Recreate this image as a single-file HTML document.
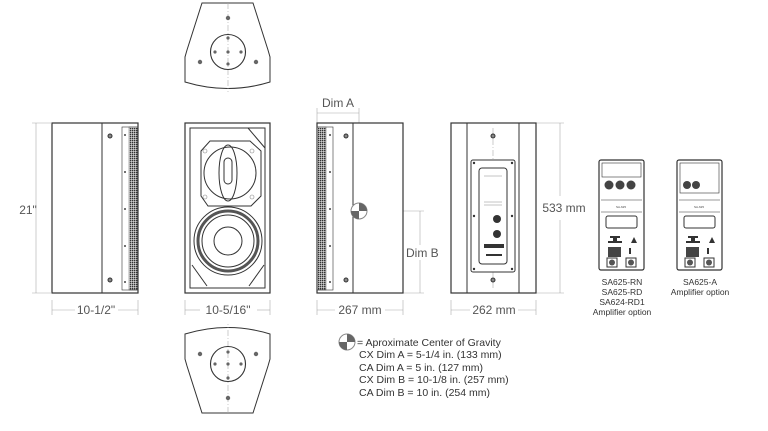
<!DOCTYPE html>
<html><head><style>body{margin:0;background:#fff}svg{display:block}</style></head><body>
<svg width="768" height="431" viewBox="0 0 768 431" xmlns="http://www.w3.org/2000/svg" font-family="Liberation Sans, sans-serif" fill="none" stroke="#333" stroke-width="1">
<defs>
<g id="topv">
<path d="M202,3 L253,3 L268,50 L270,57 L270,82 Q228,95 185,82 L185,57 L187,50 Z" fill="#fff"/>
<line x1="228" y1="3" x2="228" y2="92" stroke="#aaa" stroke-dasharray="6,2,1,2" stroke-width="0.6"/>
<circle cx="228" cy="52" r="17.5" stroke-width="1.1"/>
<g fill="#666" stroke="none">
<circle cx="228" cy="18" r="2.2"/><circle cx="228" cy="38" r="1.6"/><circle cx="228" cy="52" r="1.6"/><circle cx="228" cy="64" r="1.6"/><circle cx="215" cy="52" r="1.6"/><circle cx="241" cy="52" r="1.6"/><circle cx="200" cy="62" r="2.2"/><circle cx="256" cy="62" r="2.2"/></g>
</g>
<pattern id="gr" width="2" height="2" patternUnits="userSpaceOnUse"><rect width="1" height="1" fill="#999"/></pattern>
<g id="cg"><circle r="8" fill="#fff" stroke="#888"/><path d="M0,0 L0,-8 A8,8 0 0 1 8,0Z" fill="#666" stroke="none"/><path d="M0,0 L0,8 A8,8 0 0 1 -8,0Z" fill="#666" stroke="none"/></g>
<g id="amp">
<rect x="0" y="0" width="45" height="110" rx="2" fill="#fff" stroke-width="1.2"/>
<line x1="2" y1="40" x2="43" y2="40" stroke-width="0.6"/><line x1="2" y1="52" x2="43" y2="52" stroke-width="0.6"/>
<rect x="7" y="56" width="31" height="12" rx="2"/>
<g fill="#333" stroke="none"><path d="M11,76h10v2h-3v3h5v2h-14v-2h5v-3h-3z"/><path d="M32,83l3,-6l3,6z"/>
<rect x="9" y="87" width="13" height="10" fill="#444"/><rect x="30" y="88" width="2" height="6"/></g>
<rect x="8" y="98" width="10" height="9" stroke-width="1"/><rect x="27" y="98" width="10" height="9" stroke-width="1"/>
<circle cx="13" cy="102.5" r="3" fill="#555" stroke="none"/><circle cx="32" cy="102.5" r="3" fill="#555" stroke="none"/>
<text x="22" y="48" font-size="3" fill="#444" stroke="none" text-anchor="middle">SA-625</text>
</g>
</defs>
<use href="#topv"/>
<use href="#topv" transform="translate(0,416) scale(1,-1)"/>
<!-- side 1 -->
<rect x="52" y="123" width="86" height="170" fill="#fff" stroke-width="1.2"/>
<line x1="102" y1="123" x2="102" y2="293"/>
<rect x="129" y="127" width="9" height="163" fill="url(#gr)" stroke="#666" stroke-width="0.5"/>
<rect x="122" y="127" width="16" height="163" stroke-width="0.6"/>
<g fill="#444" stroke="none"><circle cx="125" cy="135" r="1"/><circle cx="125" cy="172" r="1"/><circle cx="125" cy="209" r="1"/><circle cx="125" cy="246" r="1"/><circle cx="125" cy="282" r="1"/></g>
<circle cx="110" cy="136" r="2" fill="#888"/><circle cx="110" cy="280" r="2" fill="#888"/>
<g stroke="#aaa" stroke-width="0.6"><line x1="36" y1="123" x2="36" y2="293"/><line x1="32" y1="123" x2="52" y2="123"/><line x1="32" y1="293" x2="52" y2="293"/>
<line x1="52" y1="300" x2="52" y2="315"/><line x1="138" y1="300" x2="138" y2="315"/><line x1="52" y1="310" x2="75" y2="310"/><line x1="118" y1="310" x2="138" y2="310"/>
<line x1="185" y1="300" x2="185" y2="315"/><line x1="270" y1="300" x2="270" y2="315"/><line x1="185" y1="310" x2="200" y2="310"/><line x1="257" y1="310" x2="270" y2="310"/>
<line x1="317" y1="300" x2="317" y2="315"/><line x1="403" y1="300" x2="403" y2="315"/><line x1="317" y1="310" x2="335" y2="310"/><line x1="385" y1="310" x2="403" y2="310"/>
<line x1="451" y1="300" x2="451" y2="315"/><line x1="536" y1="300" x2="536" y2="315"/><line x1="451" y1="310" x2="470" y2="310"/><line x1="518" y1="310" x2="536" y2="310"/>
<line x1="317" y1="113" x2="359" y2="113"/><line x1="317" y1="108" x2="317" y2="123"/><line x1="359" y1="108" x2="359" y2="211"/>
<line x1="359" y1="211" x2="424" y2="211"/><line x1="420" y1="211" x2="420" y2="245"/><line x1="420" y1="260" x2="420" y2="293"/><line x1="403" y1="293" x2="424" y2="293"/>
<line x1="536" y1="123" x2="564" y2="123"/><line x1="536" y1="293" x2="564" y2="293"/><line x1="560" y1="123" x2="560" y2="196"/><line x1="560" y1="220" x2="560" y2="293"/></g>
<g fill="#555" stroke="none" font-size="12">
<text x="28" y="214" text-anchor="middle">21"</text>
<text x="96" y="314" text-anchor="middle">10-1/2"</text>
<text x="228" y="314" text-anchor="middle">10-5/16"</text>
<text x="360" y="314" text-anchor="middle">267 mm</text>
<text x="494" y="314" text-anchor="middle">262 mm</text>
<text x="338" y="107" text-anchor="middle">Dim A</text>
<text x="564" y="212" text-anchor="middle">533 mm</text>
</g>
<!-- front -->
<rect x="185" y="123" width="85" height="170" fill="#fff" stroke-width="1.2"/>
<rect x="190" y="128" width="75" height="160"/>
<line x1="248" y1="128" x2="265" y2="148"/><line x1="192" y1="265" x2="207" y2="286"/><line x1="264" y1="265" x2="249" y2="286"/>
<path d="M210,141 L250,141 L261,151 L261,196 L251,206 L208,206 L201,196 L201,151 Z"/>
<circle cx="230" cy="173" r="26"/>
<ellipse cx="228" cy="173" rx="9" ry="28"/>
<rect x="224" y="158" width="8" height="26" rx="4"/>
<g fill="none" stroke="#888" stroke-width="0.6"><circle cx="205" cy="151" r="2"/><circle cx="252" cy="151" r="2"/><circle cx="205" cy="197" r="2"/><circle cx="252" cy="197" r="2"/></g>
<circle cx="228" cy="241" r="34" stroke-width="1"/>
<circle cx="228" cy="241" r="30" stroke="#555" stroke-width="3"/>
<circle cx="228" cy="241" r="26"/>
<circle cx="228" cy="241" r="14"/>
<!-- side 2 -->
<rect x="317" y="123" width="86" height="170" fill="#fff" stroke-width="1.2"/>
<line x1="353" y1="123" x2="353" y2="293"/>
<rect x="317" y="127" width="9" height="163" fill="url(#gr)" stroke="#666" stroke-width="0.5"/>
<rect x="317" y="127" width="16" height="163" stroke-width="0.6"/>
<g fill="#444" stroke="none"><circle cx="330" cy="135" r="1"/><circle cx="330" cy="172" r="1"/><circle cx="330" cy="209" r="1"/><circle cx="330" cy="246" r="1"/><circle cx="330" cy="282" r="1"/></g>
<circle cx="346" cy="136" r="2" fill="#888"/><circle cx="346" cy="280" r="2" fill="#888"/>
<use href="#cg" x="359" y="211"/>
<text x="406" y="257" fill="#555" stroke="none" font-size="12">Dim B</text>
<!-- rear -->
<rect x="451" y="123" width="85" height="170" fill="#fff" stroke-width="1.2"/>
<line x1="467" y1="123" x2="467" y2="293"/><line x1="519" y1="123" x2="519" y2="293"/>
<line x1="493" y1="128" x2="493" y2="290" stroke="#aaa" stroke-dasharray="6,2,1,2" stroke-width="0.6"/>
<rect x="471" y="160" width="44" height="112" rx="2" fill="#fff"/>
<rect x="479" y="168" width="28" height="96" rx="3"/>
<circle cx="493" cy="136" r="2" fill="#888"/><circle cx="493" cy="280" r="2" fill="#888"/>
<g fill="#333" stroke="none"><circle cx="474" cy="163" r="1.2"/><circle cx="512" cy="163" r="1.2"/><circle cx="474" cy="216" r="1.2"/><circle cx="512" cy="216" r="1.2"/><circle cx="474" cy="269" r="1.2"/><circle cx="512" cy="269" r="1.2"/>
<circle cx="497" cy="219" r="4"/><circle cx="497" cy="234" r="4"/><rect x="484" y="244" width="20" height="4"/><rect x="486" y="254" width="16" height="2"/></g>
<g stroke="#888" stroke-width="0.5"><line x1="484" y1="176" x2="502" y2="176"/><line x1="484" y1="202" x2="502" y2="202"/><line x1="484" y1="205" x2="502" y2="205"/></g>
<!-- amps -->
<g transform="translate(599,160)"><use href="#amp"/>
<rect x="3" y="3" width="39" height="14" stroke-width="0.6"/>
<g fill="#444" stroke="none"><circle cx="10" cy="25" r="4.5"/><circle cx="21" cy="25" r="4.5"/><circle cx="32" cy="25" r="4.5"/></g></g>
<g transform="translate(677,160)"><use href="#amp"/>
<rect x="3" y="3" width="39" height="30" stroke-width="0.6"/>
<g fill="#444" stroke="none"><circle cx="10" cy="25" r="4"/><circle cx="19" cy="25" r="4"/></g></g>
<g fill="#333" stroke="none" font-size="8.5" text-anchor="middle">
<text x="622" y="285">SA625-RN</text><text x="622" y="295">SA625-RD</text><text x="622" y="305">SA624-RD1</text><text x="622" y="315">Amplifier option</text>
<text x="700" y="285">SA625-A</text><text x="700" y="295">Amplifier option</text></g>
<!-- legend -->
<use href="#cg" x="347" y="342"/>
<g fill="#333" stroke="none" font-size="10.5">
<text x="357" y="346">= Aproximate Center of Gravity</text>
<text x="359" y="358">CX Dim A = 5-1/4 in. (133 mm)</text>
<text x="359" y="371">CA Dim A = 5 in. (127 mm)</text>
<text x="359" y="383">CX Dim B = 10-1/8 in. (257 mm)</text>
<text x="359" y="396">CA Dim B = 10 in. (254 mm)</text></g>
</svg>
</body></html>
